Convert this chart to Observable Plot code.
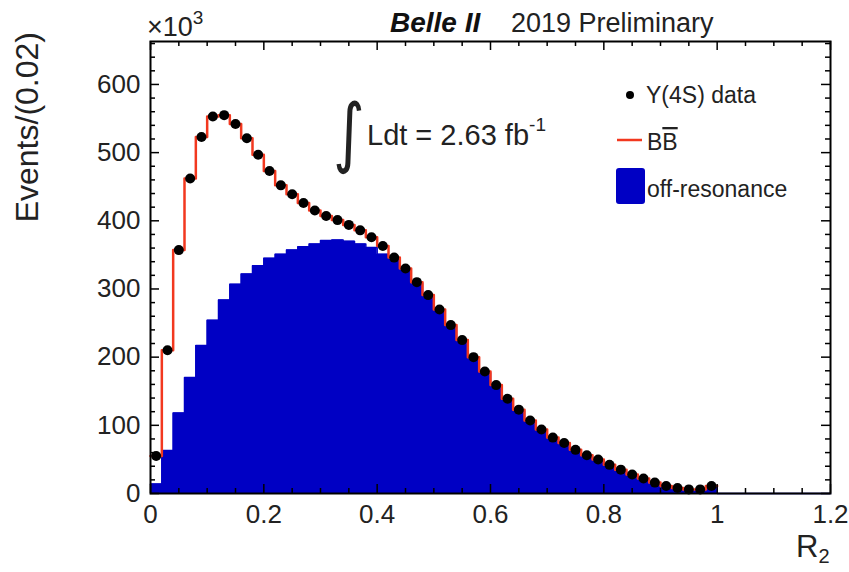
<!DOCTYPE html>
<html><head><meta charset="utf-8">
<script src="https://cdn.jsdelivr.net/npm/d3@7"></script>
<script src="https://cdn.jsdelivr.net/npm/@observablehq/plot@0.6"></script>
<style>body{margin:0;background:#fff}</style>
</head><body><div id="chart"></div>
<script>
// bin lower edges (width 0.02)
const binLow = [0.00,0.02,0.04,0.06,0.08,0.10,0.12,0.14,0.16,0.18,0.20,0.22,0.24,0.26,0.28,0.30,0.32,0.34,0.36,0.38,
  0.40,0.42,0.44,0.46,0.48,0.50,0.52,0.54,0.56,0.58,0.60,0.62,0.64,0.66,0.68,0.70,0.72,0.74,0.76,0.78,
  0.80,0.82,0.84,0.86,0.88,0.90,0.92,0.94,0.96,0.98];
const binLowEmpty = [1.00,1.02,1.04,1.06,1.08,1.10,1.12,1.14,1.16,1.18];
const binWidth = 0.02;
// Υ(4S) data, ×10^3 events per bin
const dataY4S = [55,210,357,462,523,553,555,542,521,497,473,452,439,426,415,407,401,394,386,376,
  363,346,330,310,291,270,247,225,200,179,159,139,123,107,94,82,74,64,56,50,
  42,35,28,22,16,11,8,6,6,11];
// BB̄ (total MC) step line
const bbbar = [55,210,357,462,523,553,555,542,521,497,473,452,439,426,415,407,401,394,386,376,
  363,346,330,310,291,270,247,225,200,179,159,139,123,107,94,82,74,64,56,50,
  42,35,28,22,16,11,8,6,6,11];
// off-resonance histogram
const offRes = [14,63,118,170,217,254,284,307,322,334,345,351,357,362,366,371,372,370,366,361,
  351,343,328,308,289,268,245,223,198,177,157,137,121,105,92,80,72,62,54,48,
  40,33,26,20,14,9,6,4,4,9];
const offResEmpty = [0,0,0,0,0,0,0,0,0,0];
const xTicks = [0,0.2,0.4,0.6,0.8,1,1.2];
const xMinor = [0.05,0.1,0.15,0.25,0.3,0.35,0.45,0.5,0.55,0.65,0.7,0.75,0.85,0.9,0.95,1.05,1.1,1.15];
const yTicks = [0,100,200,300,400,500,600];
const yMinor = [20,40,60,80,120,140,160,180,220,240,260,280,320,340,360,380,420,440,460,480,520,540,560,580,620,640,660];

const BLUE = "#0000c4", RED = "#f2381f";
const W = 849, H = 572, mL = 150, mR = 19, mT = 41, mB = 79;
const FW = W - mL - mR, FH = H - mT - mB;

const allLow = binLow.concat(binLowEmpty);
const allOff = offRes.concat(offResEmpty);
const offPts = allLow.map((x, i) => ({x, y: allOff[i]}));
offPts.push({x: allLow[allLow.length - 1] + binWidth, y: allOff[allOff.length - 1]});
const redPts = binLow.map((x, i) => ({x, y: bbbar[i]}));
redPts.push({x: binLow[binLow.length - 1] + binWidth, y: bbbar[bbbar.length - 1]});
const dots = binLow.map((x, i) => ({x: x + binWidth / 2, y: dataY4S[i]}));

const svg = Plot.plot({
  width: W, height: H,
  marginLeft: mL, marginRight: mR, marginTop: mT, marginBottom: mB,
  style: {fontFamily: "'Liberation Sans', Arial, sans-serif", background: "white", color: "black"},
  x: {domain: [0, 1.2]},
  y: {domain: [0, 663]},
  marks: [
    Plot.areaY(offPts, {x: "x", y: "y", curve: "step-after", fill: BLUE}),
    Plot.line(offPts, {x: "x", y: "y", curve: "step-after", stroke: BLUE, strokeWidth: 1.5}),
    Plot.line(redPts, {x: "x", y: "y", curve: "step-after", stroke: RED, strokeWidth: 2.5}),
    Plot.dot(dots, {x: "x", y: "y", r: 5, fill: "black"}),
    // inward ticks on all four sides
    Plot.ruleY(yTicks, {insetRight: FW - 9, stroke: "black", strokeWidth: 1.5}),
    Plot.ruleY(yMinor, {insetRight: FW - 5, stroke: "black", strokeWidth: 1.5}),
    Plot.ruleY(yTicks, {insetLeft: FW - 9, stroke: "black", strokeWidth: 1.5}),
    Plot.ruleY(yMinor, {insetLeft: FW - 5, stroke: "black", strokeWidth: 1.5}),
    Plot.ruleX(xTicks, {insetTop: FH - 9, stroke: "black", strokeWidth: 1.5}),
    Plot.ruleX(xMinor, {insetTop: FH - 5, stroke: "black", strokeWidth: 1.5}),
    Plot.ruleX(xTicks, {insetBottom: FH - 9, stroke: "black", strokeWidth: 1.5}),
    Plot.ruleX(xMinor, {insetBottom: FH - 5, stroke: "black", strokeWidth: 1.5}),
    Plot.frame({stroke: "black", strokeWidth: 2}),
    Plot.axisX({ticks: xTicks, tickSize: 0, tickPadding: 11, fontSize: 26, tickFormat: d => String(d), label: null, fill: "#222"}),
    Plot.axisY({ticks: yTicks, tickSize: 0, tickPadding: 10, fontSize: 26, label: null, fill: "#222"})
  ]
});
document.getElementById("chart").appendChild(svg);

const s = d3.select(svg);
const ff = "'Liberation Sans', Arial, sans-serif";
function txt(x, y, size, str, opts = {}) {
  const t = s.append("text").attr("x", x).attr("y", y).attr("font-size", size)
    .attr("font-family", ff).attr("fill", "#222").attr("text-anchor", "start").text(str);
  for (const k in opts) t.attr(k, opts[k]);
  return t;
}
// ×10^3
const t1 = txt(147, 36, 27, "×10");
t1.append("tspan").attr("dy", -12).attr("font-size", 19).text("3");
// header
txt(390, 32, 28, "Belle II", {"font-weight": "bold", "font-style": "italic", fill: "#111"});
txt(511, 32, 27, "2019 Preliminary");
// axis titles
txt(38, 32, 32, "Events/(0.02)", {transform: "rotate(-90,38,32)", "text-anchor": "end"});
const rt = txt(796, 557, 31, "R");
rt.append("tspan").attr("dy", 6).attr("font-size", 20).text("2");
// luminosity
txt(333, 158, 76, "∫", {"font-family": "'DejaVu Sans', sans-serif", transform: "translate(333,158) scale(0.8,1) translate(-333,-158)"});
const lt = txt(367, 145, 29, "Ldt = 2.63 fb");
lt.append("tspan").attr("dy", -14).attr("font-size", 19).text("-1");
// legend
s.append("circle").attr("cx", 630).attr("cy", 95).attr("r", 4).attr("fill", "black");
txt(646, 103, 23, "Υ(4S) data");
s.append("line").attr("x1", 617).attr("x2", 642).attr("y1", 140).attr("y2", 140).attr("stroke", RED).attr("stroke-width", 2.5);
const bt = txt(647, 150, 23, "B");
bt.append("tspan").attr("text-decoration", "overline").text("B");
s.append("rect").attr("x", 616).attr("y", 168).attr("width", 29).attr("height", 36).attr("rx", 3).attr("fill", BLUE);
txt(647, 197, 23, "off-resonance");
</script></body></html>
